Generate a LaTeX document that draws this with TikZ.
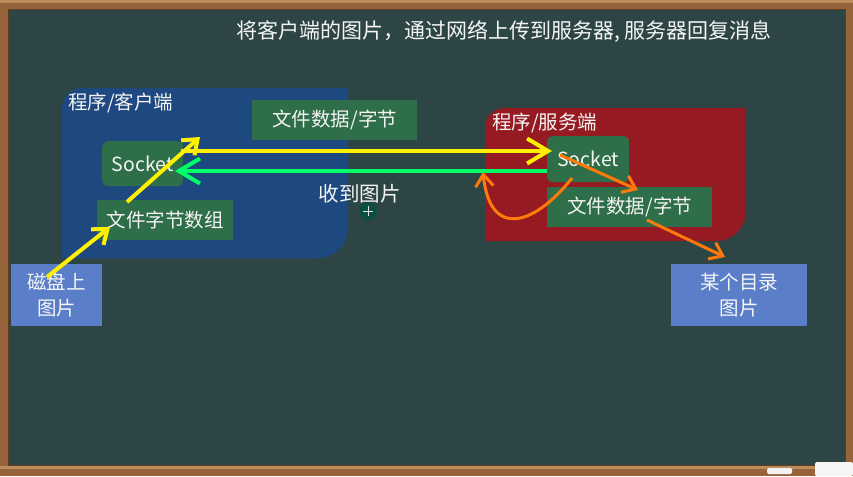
\documentclass[tikz,border=0pt]{standalone}
\usepackage{fontspec}
\setmainfont{Noto Sans CJK SC}
\usetikzlibrary{arrows.meta,calc}
\definecolor{board}{RGB}{45,70,69}
\definecolor{wood}{RGB}{150,100,58}
\definecolor{woodlight}{RGB}{190,140,90}
\definecolor{woodedge}{RGB}{95,60,32}
\definecolor{clientblue}{RGB}{30,73,128}
\definecolor{serverred}{RGB}{150,26,33}
\definecolor{boxgreen}{RGB}{46,110,72}
\definecolor{boxblue}{RGB}{90,126,200}
\definecolor{chalk}{RGB}{245,245,245}
\definecolor{cursorgreen}{RGB}{10,78,66}
\definecolor{arrowyellow}{RGB}{255,240,0}
\definecolor{arrowgreen}{RGB}{0,255,102}
\definecolor{arroworange}{RGB}{255,122,10}
\begin{document}
\begin{tikzpicture}[x=1pt,y=-1pt,
  txt/.style={text=chalk,font=\fontsize{19.5}{26}\selectfont,inner sep=0pt},
  gbox/.style={txt,fill=boxgreen,anchor=north west,align=center},
  bbox/.style={txt,fill=boxblue,anchor=north west,align=center},
  yel/.style={draw=arrowyellow,line width=4pt,-{Straight Barb[length=21pt,width=25pt]}},
  yelsmall/.style={draw=arrowyellow,line width=4pt,-{Straight Barb[length=13pt,width=20pt]}},
  grn/.style={draw=arrowgreen,line width=4pt,-{Straight Barb[length=21pt,width=25pt]}},
  org/.style={draw=arroworange,line width=3pt,-{Straight Barb[length=12pt,width=18pt]}}
]
\useasboundingbox (0,0) rectangle (853,476);
% frame and board
\fill[wood] (0,0) rectangle (853,476);
\fill[woodlight] (0,0) rectangle (853,3);
\fill[woodlight] (0,466) rectangle (853,469);
\fill[board] (8,10) rectangle (845,465);
\draw[woodedge,line width=1pt] (8,10) rectangle (845,465);
% chalk and eraser
\fill[white!90!gray,rounded corners=1.5pt] (767,468) rectangle (792,474);
\fill[white!92!gray,rounded corners=2pt] (815,462) rectangle (853,476);
% title
\node[txt,font=\fontsize{21}{26}\selectfont] (title) at (504,32) {将客户端的图片，通过网络上传到服务器, 服务器回复消息};
% regions
\fill[clientblue] (62,258) [rounded corners=20pt] -- (62,88) [sharp corners] -- (348,88) [rounded corners=30pt] -- (348,258) [sharp corners] -- cycle;
\fill[serverred] (485,241) [rounded corners=20pt] -- (485,108) [sharp corners] -- (746,108) [rounded corners=30pt] -- (746,241) [sharp corners] -- cycle;
\node[txt,anchor=west] (clientlbl) at (68,103) {程序/客户端};
\node[txt,anchor=west] (serverlbl) at (492,123) {程序/服务端};
% boxes
\node[gbox,minimum width=81pt,minimum height=45pt,rounded corners=6pt] (sockC) at (102,141) {Socket};
\node[gbox,minimum width=136pt,minimum height=40pt] (bytesC) at (97,200) {文件字节数组};
\node[gbox,minimum width=165pt,minimum height=40pt] (dataC) at (252,100) {文件数据/字节};
\node[bbox,minimum width=91pt,minimum height=62pt] (disk) at (11,264) {磁盘上\\图片};
\node[gbox,minimum width=82pt,minimum height=46pt,rounded corners=5pt] (sockS) at (547,136) {Socket};
\node[gbox,minimum width=165pt,minimum height=40pt] (dataS) at (547,187) {文件数据/字节};
\node[bbox,minimum width=136pt,minimum height=62pt] (dir) at (671,264) {某个目录\\图片};
\node[txt,font=\fontsize{20.5}{26}\selectfont] (recv) at (359.5,194) {收到图片};
% cursor mark
\fill[cursorgreen] (368,211) circle (9pt);
\draw[white!80!gray,line width=1pt] (363,211) -- (373,211) (368,206) -- (368,216);
% arrows
\draw[yelsmall] ([shift={(36,13)}]disk.north west) -- ([shift={(13,27)}]bytesC.north west);
\draw[yelsmall] ([shift={(30,2)}]bytesC.north west) -- ([shift={(98,-4)}]sockC.north west);
\draw[yel] ([shift={(79,10)}]sockC.north west) -- ([shift={(5,15)}]sockS.north west);
\draw[grn] ([shift={(0,35)}]sockS.north west) -- ([shift={(73,30)}]sockC.north west);
\draw[org] ([shift={(13,19)}]sockS.north west) -- ([shift={(91,3)}]dataS.north west);
\draw[org] ([shift={(25,42)}]sockS.north west) .. controls (535,225) and (490,240) .. ([shift={(-64,36)}]sockS.north west);
\draw[org] ([shift={(100,33)}]dataS.north west) -- ([shift={(54,-7)}]dir.north west);
\end{tikzpicture}
\end{document}
